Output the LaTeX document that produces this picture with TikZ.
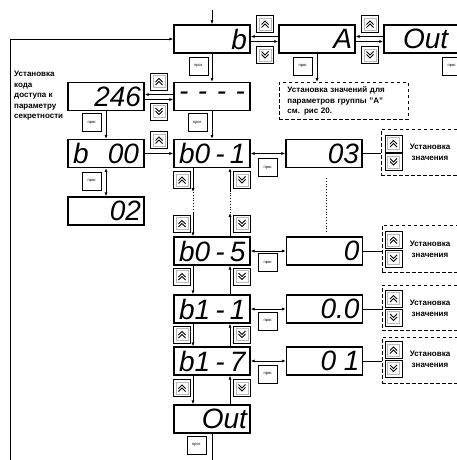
\documentclass[tikz,border=0pt]{standalone}
\usepackage{fontspec}
\setmainfont{Liberation Sans}
\usetikzlibrary{arrows.meta}
\newcommand\dispR[1]{\makebox[70pt][r]{#1}}
\newcommand\dispS[1]{\makebox[66pt][s]{#1}}
\tikzset{
  disp/.style={draw, line width=1.3pt, minimum width=76pt, minimum height=28pt, inner sep=0pt,
    font=\fontsize{28}{28}\selectfont\itshape},
  btnbase/.style={draw, line width=0.9pt, minimum width=17pt, minimum height=17pt, inner sep=0pt, fill=white},
  upb/.style={btnbase, path picture={
    \draw[gray!55, line width=0.7pt] ([shift={(-6pt,-6pt)}]path picture bounding box.center) rectangle ([shift={(6pt,6pt)}]path picture bounding box.center);
    \draw[line width=0.8pt] ([shift={(-3.5pt,-0.5pt)}]path picture bounding box.center) -- ++(3.5pt,3.5pt) -- ++(3.5pt,-3.5pt);
    \draw[line width=0.8pt] ([shift={(-3.5pt,-3.5pt)}]path picture bounding box.center) -- ++(3.5pt,3.5pt) -- ++(3.5pt,-3.5pt);}},
  dnb/.style={btnbase, path picture={
    \draw[gray!55, line width=0.7pt] ([shift={(-6pt,-6pt)}]path picture bounding box.center) rectangle ([shift={(6pt,6pt)}]path picture bounding box.center);
    \draw[line width=0.8pt] ([shift={(-3.5pt,0.5pt)}]path picture bounding box.center) -- ++(3.5pt,-3.5pt) -- ++(3.5pt,3.5pt);
    \draw[line width=0.8pt] ([shift={(-3.5pt,3.5pt)}]path picture bounding box.center) -- ++(3.5pt,-3.5pt) -- ++(3.5pt,3.5pt);}},
  progb/.style={draw, line width=0.9pt, minimum width=19pt, minimum height=18pt, inner sep=0pt,
    fill=white, font=\fontsize{4}{4}\selectfont},
  dbox/.style={draw, dashed, dash pattern=on 3.5pt off 2.5pt, line width=0.9pt, inner sep=0pt},
  lbl/.style={font=\fontsize{8}{10.5}\selectfont\bfseries, align=left, inner sep=0pt},
  rlbl/.style={font=\fontsize{8}{11}\selectfont\bfseries, align=center, inner sep=0pt},
  conn/.style={line width=0.8pt},
  arr/.style={conn, -{Latex[length=4pt,width=3.2pt]}},
  darr/.style={conn, {Latex[length=4pt,width=3.2pt]}-{Latex[length=4pt,width=3.2pt]}},
}
\begin{document}
\begin{tikzpicture}[x=1pt,y=-1pt]
\clip (0,0) rectangle (457,460);
\fill[white] (0,0) rectangle (457,460);
% displays
\node[disp] (bnode) at (212,39) {\dispR{b}};
\node[disp] (anode) at (317,39) {\dispR{A}};
\node[disp, minimum width=86pt] (outT) at (427,39) {\makebox[80pt][l]{\hspace{16pt}Out}};
\node[disp] (dash) at (212,96.5) {\dispS{- - - -}};
\node[disp] (c246) at (106,96.5) {\dispR{246}};
\node[disp] (b00) at (106,153.5) {\dispS{b 00}};
\node[disp] (b01) at (212,153.5) {\dispS{b0 - 1}};
\node[disp] (d02) at (106,211) {\dispR{02}};
\node[disp] (v03) at (324,153.5) {\dispR{03}};
\node[disp] (b05) at (212,251) {\dispS{b0 - 5}};
\node[disp] (v0) at (324.5,251) {\dispR{0}};
\node[disp] (b11) at (212,309) {\dispS{b1 - 1}};
\node[disp] (v00) at (324.5,309) {\dispR{0.0}};
\node[disp] (b17) at (212,361) {\dispS{b1 - 7}};
\node[disp] (v01) at (324.5,361) {\dispR{0 1}};
\node[disp] (outB) at (212,419) {\dispR{Out}};
% dashed boxes
\node[dbox, anchor=north west, minimum width=128pt, minimum height=37pt, text width=113pt, inner xsep=8pt, align=left,
  font=\fontsize{8}{10.5}\selectfont\bfseries] (note) at (279,82)
  {Установка значений для\\параметров группы "А"\\см. рис 20.};
\node[dbox, anchor=north west, minimum width=90pt, minimum height=46pt] (r1) at (381,129) {};
\node[dbox, anchor=north west, minimum width=90pt, minimum height=47pt] (r2) at (382,225) {};
\node[dbox, anchor=north west, minimum width=90pt, minimum height=45pt] (r3) at (382,285) {};
\node[dbox, anchor=north west, minimum width=90pt, minimum height=46pt] (r4) at (382,337) {};
\node[rlbl] (t1) at (430,152.5) {Установка\\значения};
\node[rlbl] (t2) at (430,249) {Установка\\значения};
\node[rlbl] (t3) at (430,308.5) {Установка\\значения};
\node[rlbl] (t4) at (430,359) {Установка\\значения};
\node[lbl, anchor=north west] (code) at (14,71) {Установка\\кода\\доступа к\\параметру\\секретности};
% up/down buttons
\node[upb] (u1) at (265,24) {};
\node[dnb] (d1) at (265,55) {};
\node[upb] (u2) at (370,24) {};
\node[dnb] (d2) at (370,55) {};
\node[upb] (u3) at (159,81.5) {};
\node[dnb] (d3) at (159,111.5) {};
\node[upb] (u4) at (159,140) {};
\node[upb] (u5) at (182,180) {};
\node[upb] (u6) at (182,223.5) {};
\node[upb] (u7) at (182,276.5) {};
\node[upb] (u8) at (182,334.5) {};
\node[upb] (u9) at (182,388) {};
\node[dnb] (d5) at (242,180) {};
\node[dnb] (d6) at (242,223.5) {};
\node[dnb] (d7) at (242,276.5) {};
\node[dnb] (d8) at (242,334.5) {};
\node[dnb] (d9) at (242,388) {};
\node[upb] (ru1) at (393.5,143.5) {};
\node[dnb] (rd1) at (393.5,162) {};
\node[upb] (ru2) at (393.5,240) {};
\node[dnb] (rd2) at (393.5,258.5) {};
\node[upb] (ru3) at (393.5,298.5) {};
\node[dnb] (rd3) at (393.5,317.5) {};
\node[upb] (ru4) at (393.5,350) {};
\node[dnb] (rd4) at (393.5,368.5) {};
% prog buttons
\node[progb] (p1) at (198.5,66) {прог.};
\node[progb] (p2) at (303,66) {прог.};
\node[progb] (p3) at (452,66) {прог.};
\node[progb] (p4) at (92,122.5) {прог.};
\node[progb] (p5) at (197.5,122.5) {прог.};
\node[progb] (p6) at (92,181) {прог.};
\node[progb] (p7) at (268,167.5) {прог.};
\node[progb] (p8) at (268,262.5) {прог.};
\node[progb] (p9) at (268,321) {прог.};
\node[progb] (p10) at (268,374) {прог.};
\node[progb] (p11) at (196.5,445) {прог.};
% coordinates
\coordinate (topin) at (212,10);
\coordinate (loopb) at (10,465);
\coordinate (l1) at (193,192);
\coordinate (l2) at (193,213);
\coordinate (q1) at (230,213);
\coordinate (q2) at (230,192);
\coordinate (dt1) at (326,178);
\coordinate (dt2) at (326,233);
% connectors
\draw[arr] (topin) -- (bnode.north);
\draw[arr] (loopb) |- (bnode.west);
\draw[arr] ([yshift=2.5pt]anode.west) -- ([yshift=2.5pt]bnode.east);
\draw[arr] ([yshift=-2.5pt]bnode.east) -- ([yshift=-2.5pt]anode.west);
\draw[arr] ([yshift=2.5pt]outT.west) -- ([yshift=2.5pt]anode.east);
\draw[arr] ([yshift=-2.5pt]anode.east) -- ([yshift=-2.5pt]outT.west);
\draw[arr] (bnode.south) -- (dash.north);
\draw[arr] (anode.south) -- (anode.south |- note.north);
\draw[arr] ([yshift=2pt]dash.west) -- ([yshift=2pt]c246.east);
\draw[arr] ([yshift=-3pt]c246.east) -- ([yshift=-3pt]dash.west);
\draw[arr] (c246.south) -- (b00.north);
\draw[arr] (dash.south) -- (b01.north);
\draw[arr] (b00.east) -- (b01.west);
\draw[darr] (b00.south) -- (d02.north);
\draw[darr] (b01.east) -- (v03.west);
\draw[conn] (v03.east) -- (v03.east -| r1.west);
\draw[conn, dotted] (dt1) -- (dt2);
\draw[arr] (b01.south -| l1) -- (l1);
\draw[conn, dotted] (l1) -- (l2);
\draw[arr] (l2) -- (b05.north -| l2);
\draw[arr] (b05.north -| q1) -- (q1);
\draw[conn, dotted] (q1) -- (q2);
\draw[arr] (q2) -- (b01.south -| q2);
\draw[darr] (b05.east) -- (v0.west);
\draw[conn] (v0.east) -- (v0.east -| r2.west);
\draw[arr] (b05.south -| l1) -- (b11.north -| l1);
\draw[arr] (b11.north -| q1) -- (b05.south -| q1);
\draw[darr] (b11.east) -- (v00.west);
\draw[conn] (v00.east) -- (v00.east -| r3.west);
\draw[arr] (b11.south -| l1) -- (b17.north -| l1);
\draw[arr] (b17.north -| q1) -- (b11.south -| q1);
\draw[darr] (b17.east) -- (v01.west);
\draw[conn] (v01.east) -- (v01.east -| r4.west);
\draw[arr] (b17.south -| l1) -- (outB.north -| l1);
\draw[arr] (outB.north -| q1) -- (b17.south -| q1);
\draw[conn] (outB.south) -- (outB.south |- loopb);
\end{tikzpicture}
\end{document}
